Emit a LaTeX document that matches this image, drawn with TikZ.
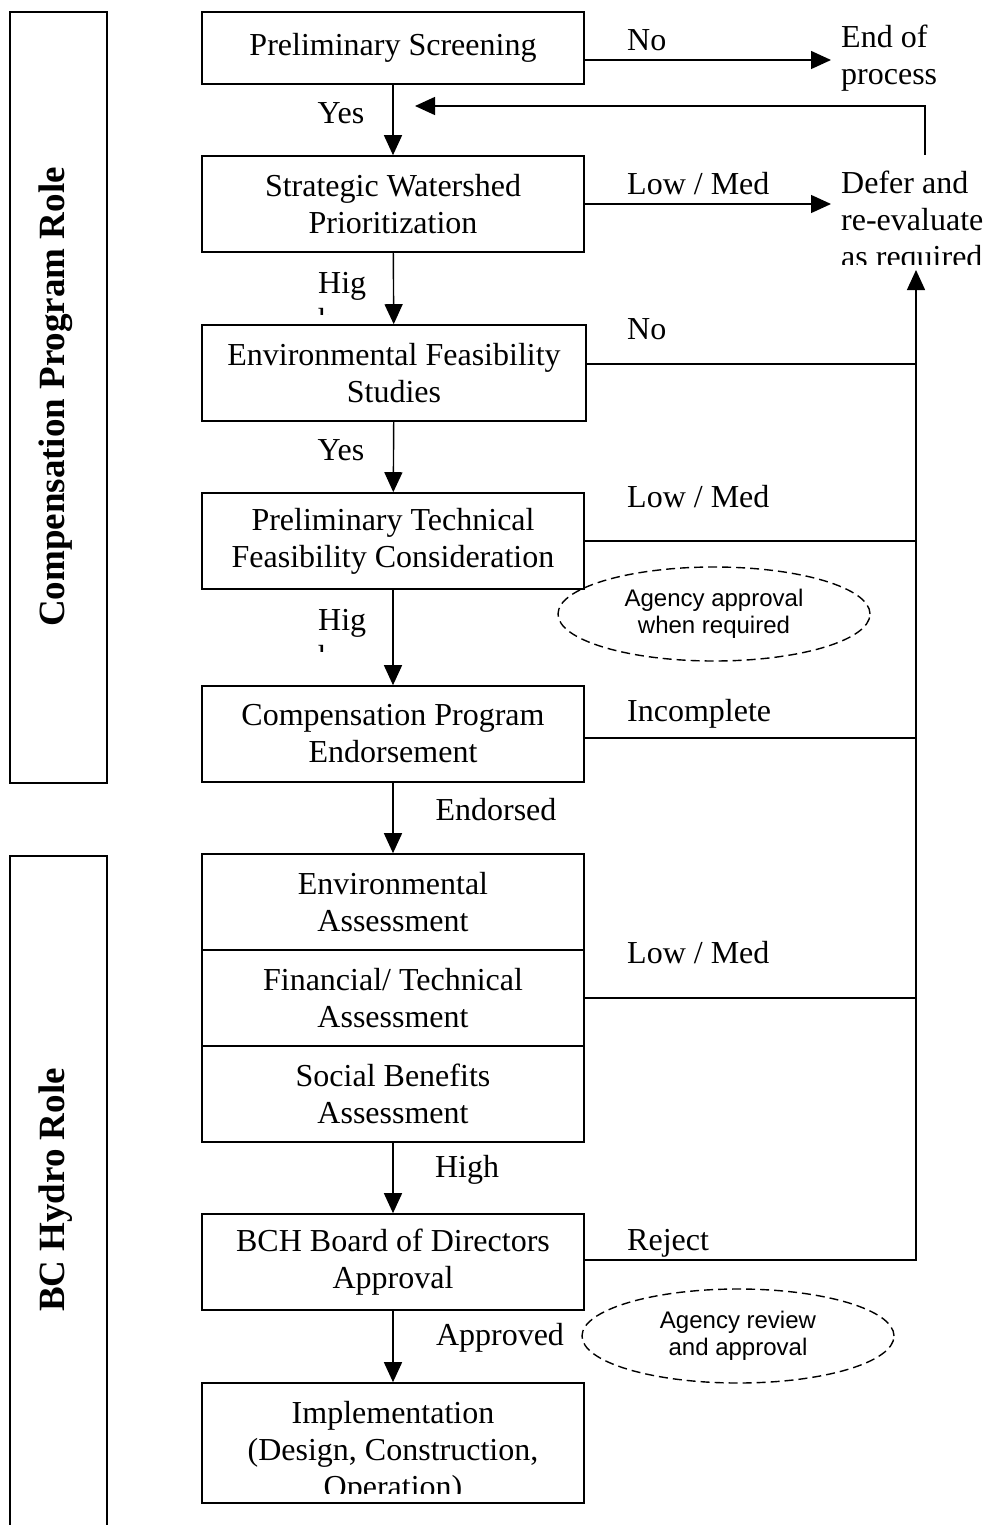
\documentclass[tikz,border=0pt]{standalone}
\usepackage{fontspec}
\setmainfont{Liberation Serif}
\newfontfamily\sansf{Liberation Sans}
\usetikzlibrary{arrows.meta,shapes.geometric,calc}
\newcommand\mainsz{\fontsize{32}{37}\selectfont}
\tikzset{
  box/.style={draw, line width=1.6pt, minimum width=382pt, align=center, font=\mainsz, inner sep=0pt},
  arr/.style={line width=1.4pt, -{Triangle[length=20pt,width=18pt]}},
  ln/.style={line width=1.4pt},
  lbl/.style={font=\mainsz, inner sep=0pt},
  oval/.style={ellipse, draw, dash pattern=on 9pt off 5pt, line width=1.4pt, font=\sansf\fontsize{24}{27}\selectfont, align=center, minimum width=312pt, minimum height=94pt, inner sep=0pt},
  band/.style={draw, line width=1.6pt, minimum width=97pt, inner sep=0pt},
  bandlbl/.style={rotate=90, font=\fontsize{37}{40}\selectfont\bfseries, inner sep=0pt}
}
\begin{document}
\begin{tikzpicture}[x=1pt,y=-1pt]
\clip (0,0) rectangle (986,1525);
\fill[white] (0,0) rectangle (986,1525);

% side bands
\node[band, minimum height=771pt] (sb1) at (58.5,397.5) {};
\node[bandlbl] (sl1) at (56,397) {Compensation Program Role};
\node[band, minimum height=690pt] (sb2) at (58.5,1201) {};
\node[bandlbl] (sl2) at (56,1190) {BC Hydro Role};

% main boxes
\node[box, minimum height=72pt] (b1) at (393,48) {Preliminary Screening};
\node[box, minimum height=96pt] (b2) at (393,204) {Strategic Watershed\\Prioritization};
\node[box, minimum height=96pt, minimum width=384pt] (b3) at (394,373) {Environmental Feasibility\\Studies};
\node[box, minimum height=96pt] (b4) at (393,541) {Preliminary Technical\\Feasibility Consideration};
\node[box, minimum height=96pt] (b5) at (393,734) {Compensation Program\\Endorsement};
\node[box, minimum height=96pt] (b6a) at (393,902) {Environmental\\Assessment};
\node[box, minimum height=96pt] (b6b) at (393,998) {Financial/ Technical\\Assessment};
\node[box, minimum height=96pt] (b6c) at (393,1094) {Social Benefits\\Assessment};
\node[box, minimum height=96pt] (b7) at (393,1262) {BCH Board of Directors\\Approval};
\node[box, minimum height=120pt] (b8) at (393,1443) {};
\begin{scope}
\clip (200,1385) rectangle (590,1493);
\node[lbl, align=center] (b8t) at (393,1453) {Implementation\\(Design, Construction,\\Operation)};
\end{scope}

% vertical arrows
\draw[arr] (b1) -- (b2);
\draw[arr] (b2) -- (b3);
\draw[arr] (b3) -- (b4);
\draw[arr] (b4) -- (b5);
\draw[arr] (b5) -- (b6a);
\draw[arr] (b6c) -- (b7);
\draw[arr] (b7) -- (b8);

% labels on vertical arrows
\node[lbl] (ly1) at (341,113) {Yes};
\begin{scope}
\clip (300,262) rectangle (390,314);
\node[lbl, align=left, anchor=west] (lh1) at (318,301.5) {Hig\\h};
\end{scope}
\node[lbl] (ly2) at (341,450) {Yes};
\begin{scope}
\clip (300,599) rectangle (390,651);
\node[lbl, align=left, anchor=west] (lh2) at (318,638.5) {Hig\\h};
\end{scope}
\node[lbl] (lend) at (496,810) {Endorsed};
\node[lbl] (lhigh) at (467,1170) {High};
\node[lbl] (lapp) at (500,1338) {Approved};

% right-hand outcomes
\node[lbl, align=left, anchor=west, inner xsep=10pt] (endp) at (831,58) {End of\\process};
\begin{scope}
\clip (820,150) rectangle (986,264);
\node[lbl, align=left, anchor=west, inner xsep=10pt] (defer) at (831,223) {Defer and\\re-evaluate\\as required};
\end{scope}

\draw[arr] ([yshift=-12pt]b1.east) -- ([yshift=-12pt]b1.east -| endp.west);
\node[lbl, anchor=west] (lno1) at (627,40) {No};
\draw[arr] (b2.east) -- (b2.east -| endp.west);
\node[lbl, anchor=west] (llm1) at (627,184) {Low / Med};

\coordinate (r1) at (925,155);
\coordinate (rt) at (415,106);
\draw[arr] (r1) |- (rt);

% feedback line
\coordinate (fbtop) at (916,270);
\draw[ln] ([yshift=9pt]b3.east) -- ([yshift=9pt]b3.east -| fbtop);
\draw[ln] (b4.east) -- (b4.east -| fbtop);
\draw[ln] ([yshift=-4pt]b5.east) -- ([yshift=-4pt]b5.east -| fbtop);
\draw[ln] (b6b.east) -- (b6b.east -| fbtop);
\draw[arr] ([yshift=2pt]b7.east) -| (fbtop);

\node[lbl, anchor=west] (lno2) at (627,329) {No};
\node[lbl, anchor=west] (llm2) at (627,497) {Low / Med};
\node[lbl, anchor=west] (linc) at (627,714) {Incomplete};
\node[lbl, anchor=west] (llm3) at (627,953) {Low / Med};
\node[lbl, anchor=west] (lrej) at (627,1243) {Reject};

% ellipses
\node[oval] (e1) at (714,614) {Agency approval\\when required};
\node[oval] (e2) at (738,1336) {Agency review\\and approval};
\end{tikzpicture}
\end{document}
